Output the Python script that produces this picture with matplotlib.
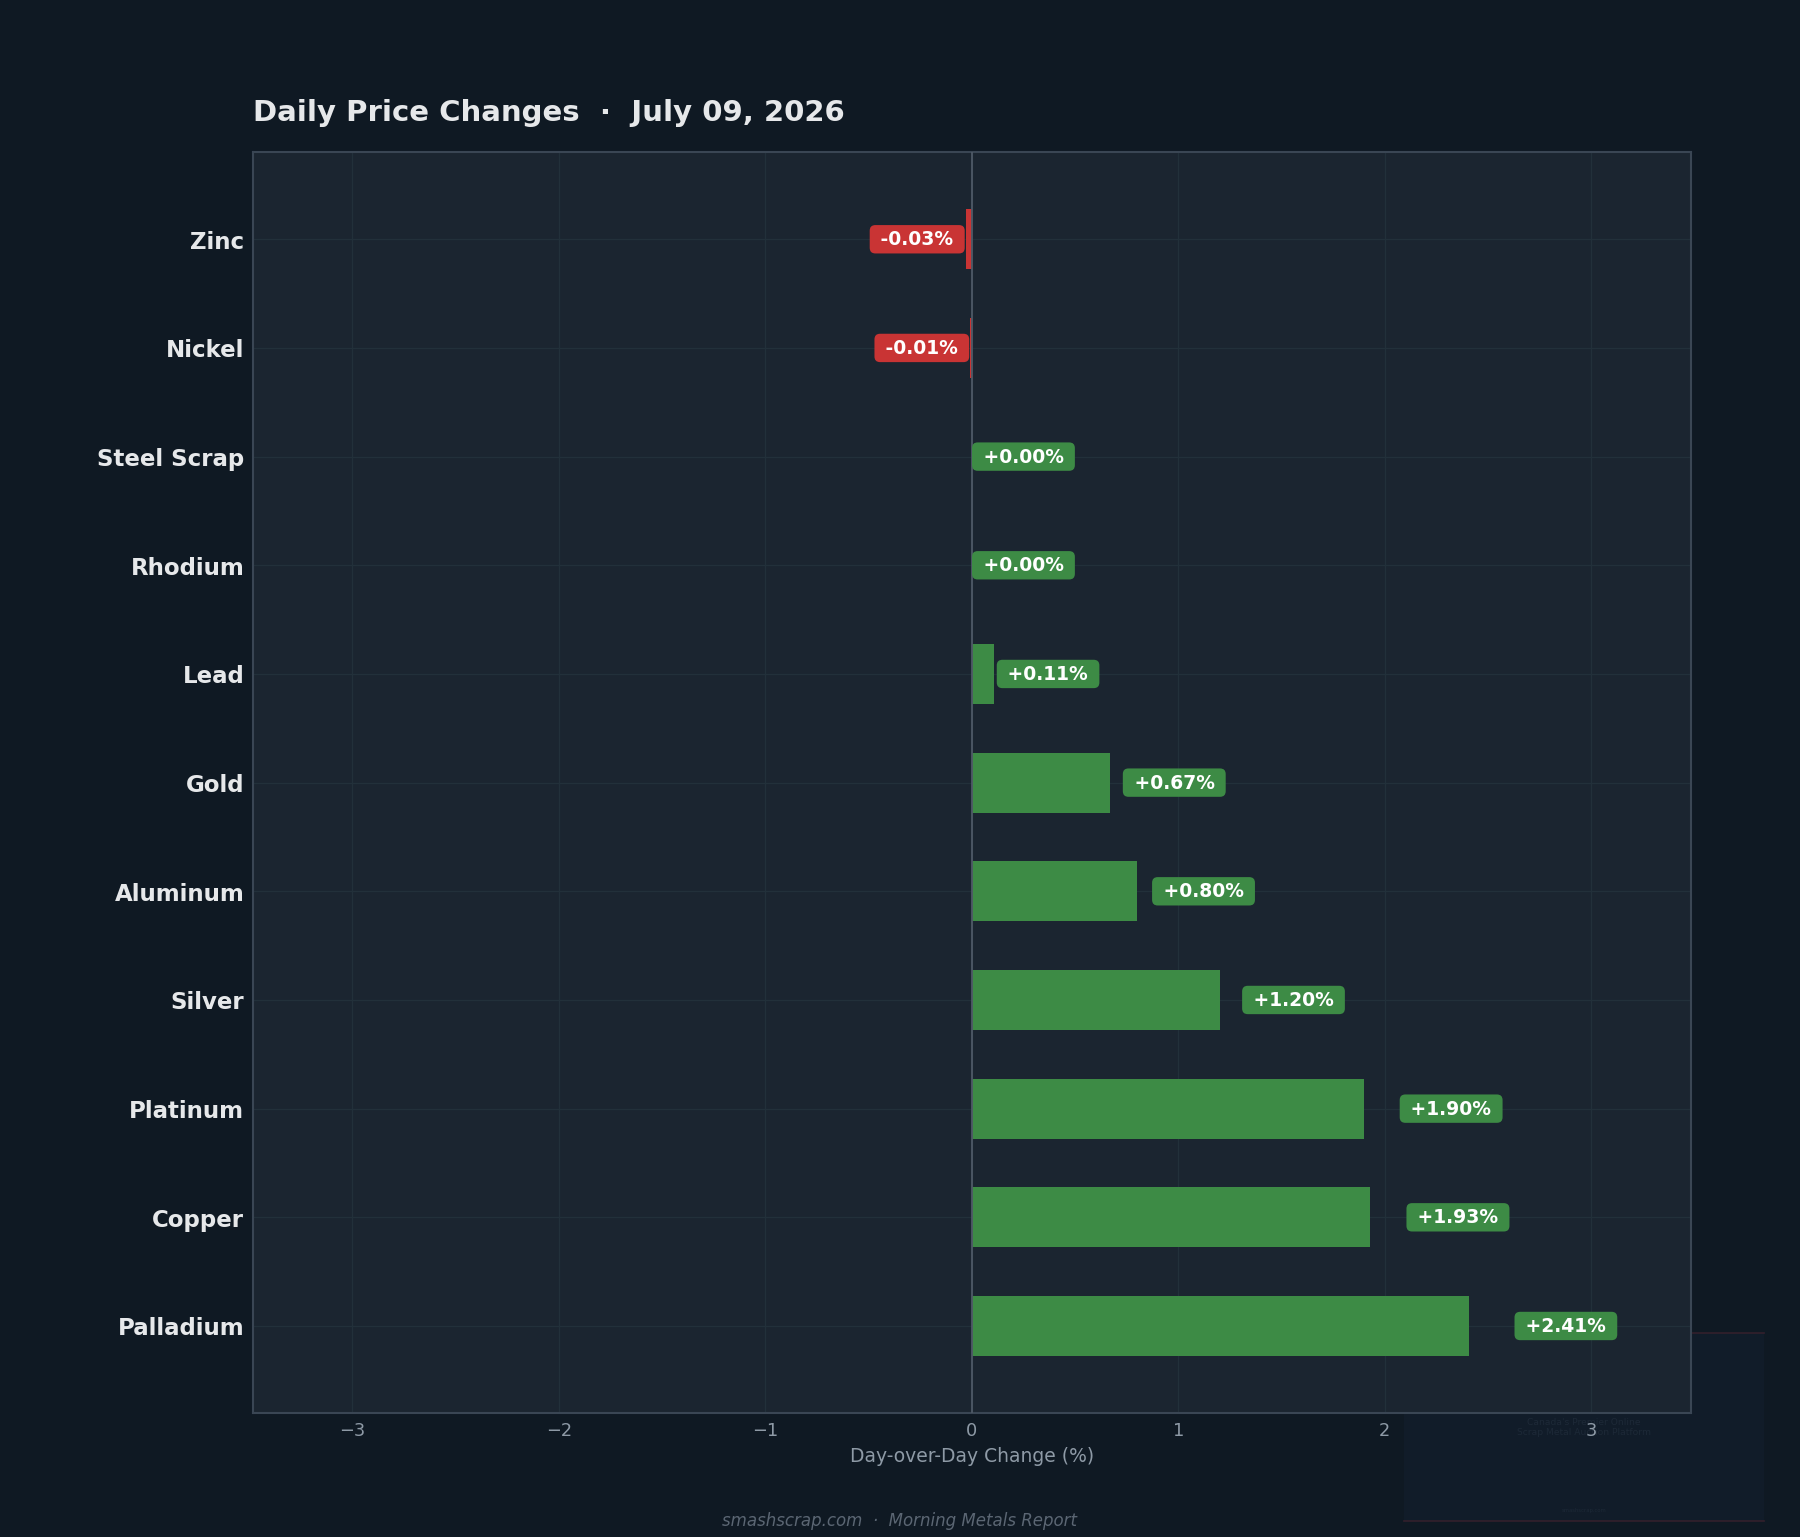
import matplotlib
matplotlib.use("Agg")
import matplotlib.pyplot as plt
from matplotlib.patches import Rectangle
from matplotlib.lines import Line2D

# data, top to bottom
metals = ['Zinc', 'Nickel', 'Steel Scrap', 'Rhodium', 'Lead', 'Gold',
          'Aluminum', 'Silver', 'Platinum', 'Copper', 'Palladium']
changes = [-0.03, -0.01, 0.00, 0.00, 0.11, 0.67, 0.80, 1.20, 1.90, 1.93, 2.41]

BG = '#0f1923'
PANEL = '#1b2530'
GREEN = '#3d8b45'
RED = '#c93434'
TEXT = '#e6e8ea'
MUTED = '#8e9aa6'

fig = plt.figure(figsize=(12, 10.25), dpi=150, facecolor=BG)
ax = fig.add_axes([0.1403, 0.0807, 0.7991, 0.8199])
ax.set_facecolor(PANEL)

# faint watermark box behind the plot (bottom right)
wm = dict(transform=fig.transFigure, zorder=-5)
fig.add_artist(Rectangle((1404 / 1800, 1 - 1521 / 1537), 360 / 1800, 188 / 1537,
                         facecolor='#111c29', edgecolor='none', **wm))
for yy in (1333, 1521):
    fig.add_artist(Line2D([1404 / 1800, 1764 / 1800], [1 - yy / 1537] * 2,
                          color='#33202c', lw=0.8, **wm))
fig.text(1584 / 1800, 1 - 1427 / 1537, "Canada's Premier Online\nScrap Metal Auction Platform",
         ha='center', va='center', fontsize=4.4, color='#1d2937', linespacing=1.2, zorder=-4)
fig.text(1584 / 1800, 1 - 1510 / 1537, 'smashscrap.com', ha='center', va='center',
         fontsize=2.5, color='#1d2937', zorder=-4)

ypos = list(range(len(metals)))
colors = [GREEN if v >= 0 else RED for v in changes]
ax.barh(ypos, changes, height=0.55, color=colors, zorder=3)
ax.axvline(0, color='#4d5865', lw=0.9, zorder=4)

lim = max(abs(v) for v in changes) * 1.445
ax.set_xlim(-lim, lim)
ax.set_ylim(len(metals) - 1 + 0.8, -0.8)

for y, v, c in zip(ypos, changes, colors):
    lbl = f"{v:+.2f}%"
    if v >= 0:
        ax.text(v * 1.09 + 0.024, y, f" {lbl} ", ha='left', va='center', fontsize=9,
                fontweight='bold', color='white', zorder=5,
                bbox=dict(boxstyle='round,pad=0.25,rounding_size=0.3', fc=c, ec='none'))
    else:
        ax.text(v * 1.09 - 0.024, y, f" {lbl} ", ha='right', va='center', fontsize=9,
                fontweight='bold', color='white', zorder=5,
                bbox=dict(boxstyle='round,pad=0.25,rounding_size=0.3', fc=c, ec='none'))

ax.set_yticks(ypos)
ax.set_yticklabels(metals, fontsize=11, fontweight='bold', color=TEXT)
ax.tick_params(axis='y', length=0, pad=4)
ax.tick_params(axis='x', length=0, pad=4, labelsize=8.5, labelcolor=MUTED)
ax.set_xlabel('Day-over-Day Change (%)', fontsize=9, color=MUTED, labelpad=3.5)

ax.grid(True, color='#22303a', lw=0.6, zorder=0)
ax.set_axisbelow(True)
for sp in ax.spines.values():
    sp.set_color('#3a4654')
    sp.set_linewidth(1.0)

ax.set_title('Daily Price Changes  ·  July 09, 2026', loc='left', fontsize=14,
             fontweight='bold', color=TEXT, pad=15.5)

fig.text(0.5, 0.011, 'smashscrap.com  ·  Morning Metals Report', ha='center', va='center',
         fontsize=8, style='italic', color='#5b6673')

fig.savefig('out.png', facecolor=BG)
plt.close(fig)
